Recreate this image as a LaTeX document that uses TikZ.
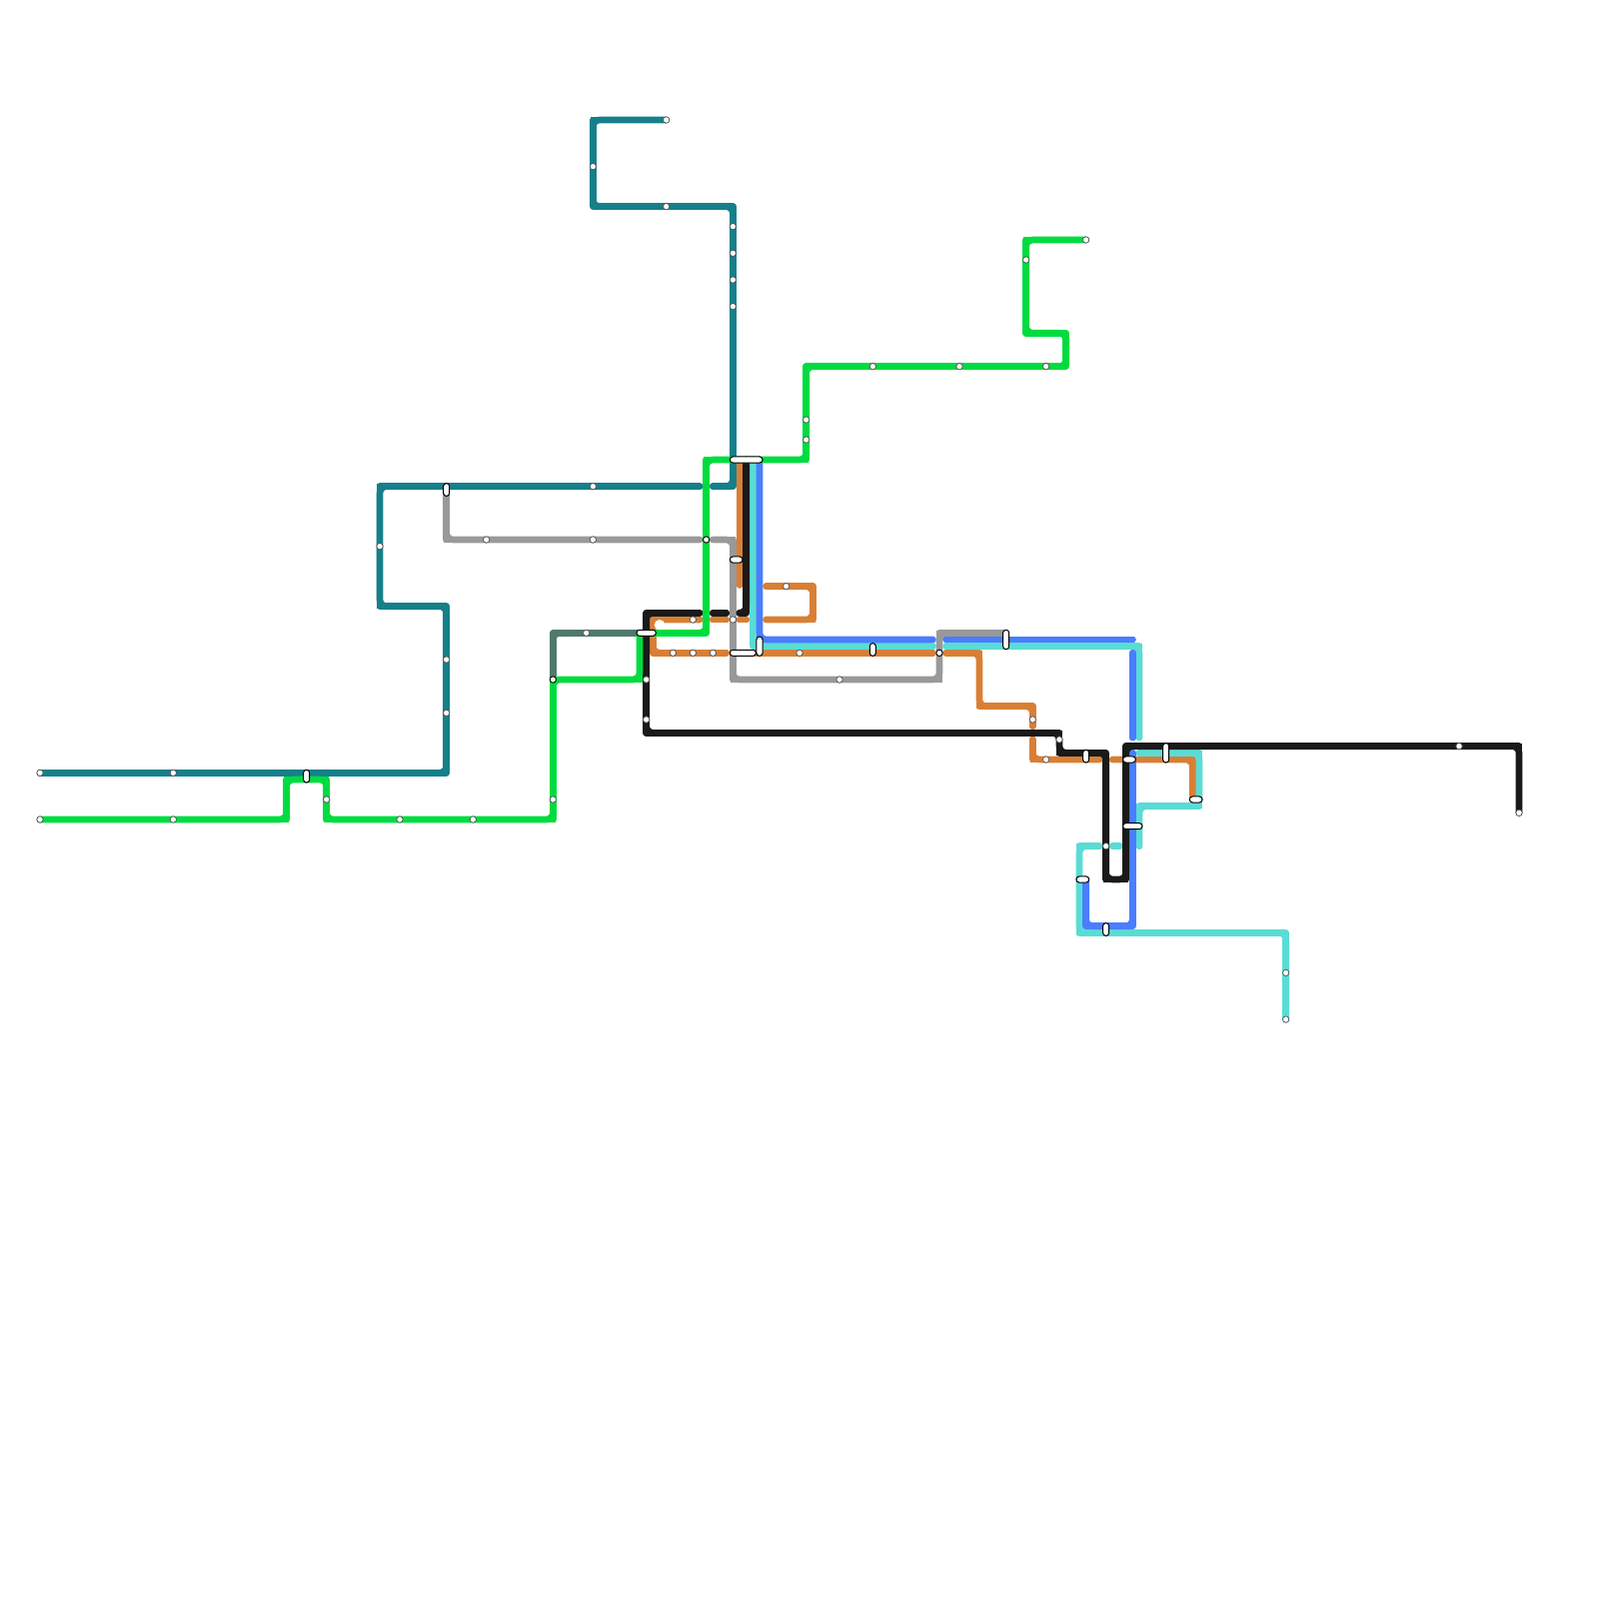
\documentclass[tikz,border=0pt]{standalone}
\definecolor{cteal}{HTML}{15808A}
\definecolor{cgreen}{HTML}{00DC3F}
\definecolor{corange}{HTML}{D97F35}
\definecolor{ccyan}{HTML}{5ADCD5}
\definecolor{cblue}{HTML}{4A7DFF}
\definecolor{cgray}{HTML}{999999}
\definecolor{cblack}{HTML}{1A1A1A}
\definecolor{cmoss}{HTML}{4F7A6B}
\tikzset{
  metro/.style={line width=3.3333pt,line cap=round,line join=round},
  station/.style={circle,draw=black!70,fill=white,line width=0.35pt,inner sep=0pt,minimum size=3.2pt},
  stationk/.style={station,draw=black,line width=0.45pt},
  capsule/.style={rectangle,draw=black,fill=white,line width=0.5pt,rounded corners=1.5pt,inner sep=0pt},
  caph/.style={capsule,minimum height=3.05pt,minimum width=#1*3.3333pt+3.05pt},
  capv/.style={capsule,minimum width=3.05pt,minimum height=#1*3.3333pt+3.05pt}
}
\newcommand{\metro}[2]{\draw[metro,#1] #2; \draw[metro,#1,line width=2.53pt,line join=miter] #2; \draw[metro,#1,rounded corners=3.4pt] #2;}
\begin{document}
\begin{tikzpicture}[x=3.3333pt,y=-3.3333pt]
\useasboundingbox (0,0) rectangle (240,240);
% line termini
\coordinate (tTealN) at (100,18);
\coordinate (tTealW) at (6,116);
\coordinate (tGreenW) at (6,123);
\coordinate (tGreenN) at (163,36);
\coordinate (tBlackE) at (228,122);
\coordinate (tCyanS) at (193,153);
% teal
\metro{cteal}{(tTealN) -- (89,18) -- (89,31) -- (110,31) -- (110,73) -- (107,73)}
\metro{cteal}{(105,73) -- (57,73) -- (57,91) -- (67,91) -- (67,116) -- (tTealW)}
% gray
\metro{cgray}{(67,74) -- (67,81) -- (105,81)}
\metro{cgray}{(107,81) -- (110,81) -- (110,102) -- (141,102) -- (141,95) -- (151,95)}
% orange
\metro{corange}{(111,69) -- (111,87.8)}
\metro{corange}{(115,88) -- (122,88) -- (122,93) -- (115,93)}
\metro{corange}{(112,93) -- (111,93)}
\metro{corange}{(109,93) -- (107,93)}
\metro{corange}{(105,93) -- (98,93) -- (98,98) -- (109,98)}
\fill[white] (99,93.8) circle (0.8);
\metro{corange}{(111,98) -- (140,98)}
\metro{corange}{(142,98) -- (147,98) -- (147,106) -- (155,106) -- (155,109)}
\metro{corange}{(155,111) -- (155,114) -- (165,114)}
\metro{corange}{(167,114) -- (179,114) -- (179,120)}
% cyan
\metro{ccyan}{(113,69) -- (113,97) -- (140,97)}
\metro{ccyan}{(142,97) -- (171,97) -- (171,110.7)}
\metro{ccyan}{(171,113) -- (180,113) -- (180,121) -- (171,121) -- (171,127)}
\metro{ccyan}{(165,127) -- (162,127) -- (162,140) -- (193,140) -- (tCyanS)}
\metro{ccyan}{(167,127) -- (168,127)}
% blue
\metro{cblue}{(114,69) -- (114,96) -- (140,96)}
\metro{cblue}{(142,96) -- (170,96)}
\metro{cblue}{(170,98) -- (170,110.7)}
\metro{cblue}{(170,113) -- (170,139) -- (163,139) -- (163,132)}
% black
\metro{cblack}{(112,69) -- (112,92) -- (111,92)}
\metro{cblack}{(109,92) -- (107,92)}
\metro{cblack}{(105,92) -- (97,92) -- (97,110) -- (159,110) -- (159,113) -- (166,113) -- (166,132) -- (169,132) -- (169,112) -- (228,112) -- (tBlackE)}
% moss
\metro{cmoss}{(83,102) -- (83,95) -- (96,95)}
% green
\metro{cgreen}{(tGreenW) -- (43,123) -- (43,117) -- (49,117) -- (49,123) -- (83,123) -- (83,102) -- (96,102) -- (96,95)}
\metro{cgreen}{(98,95) -- (106,95) -- (106,69) -- (121,69) -- (121,55) -- (160,55) -- (160,50) -- (154,50) -- (154,36) -- (tGreenN)}
% stations
\foreach \n/\p in {a1/{100,31},a2/{89,25},a3/{110,34},a4/{110,38},a5/{110,42},a6/{110,46},a7/{89,73},a8/{57,82},a9/{67,99},a10/{67,107},a11/{26,116},
 b1/{26,123},b2/{49,120},b3/{60,123},b4/{71,123},b5/{83,120},b6/{121,63},b7/{121,66},b8/{131,55},b9/{144,55},b10/{157,55},b11/{154,39},
 c1/{73,81},c2/{89,81},c3/{126,102},d1/{88,95},
 e1/{118,88},e2/{104,93},e3/{110,93},e4/{101,98},e5/{104,98},e6/{107,98},e7/{120,98},e8/{155,108},e9/{157,114},
 f1/{97,102},f2/{97,108},f3/{159,111},f4/{219,112},g1/{193,146},g2/{166,127}}{
  \node[station] (\n) at (\p) {};
}
\node[station] (tn1) at (tTealN) {};
\node[station] (tn2) at (tTealW) {};
\node[station] (tn3) at (tGreenW) {};
\node[station] (tn4) at (tGreenN) {};
\node[station] (tn5) at (tBlackE) {};
\node[station] (tn6) at (tCyanS) {};
\node[stationk] (k1) at (106,81) {};
\node[stationk] (k2) at (83,102) {};
\node[stationk] (k3) at (141,98) {};
% interchanges
\node[capv=1] (x1) at (46,116.5) {};
\node[capv=1] (x2) at (67,73.5) {};
\node[caph=4] (x3) at (112,69) {};
\node[caph=1] (x4) at (110.5,84) {};
\node[caph=2] (x5) at (97,95) {};
\node[caph=3] (x6) at (111.5,98) {};
\node[capv=2] (x7) at (114,97) {};
\node[capv=1] (x8) at (131,97.5) {};
\node[capv=2] (x9) at (151,96) {};
\node[capv=1] (x10) at (163,113.5) {};
\node[capv=2] (x11) at (175,113) {};
\node[caph=1] (x12) at (169.5,114) {};
\node[caph=1] (x13) at (179.5,120) {};
\node[caph=2] (x14) at (170,124) {};
\node[caph=1] (x15) at (162.5,132) {};
\node[capv=1] (x16) at (166,139.5) {};
\end{tikzpicture}
\end{document}
